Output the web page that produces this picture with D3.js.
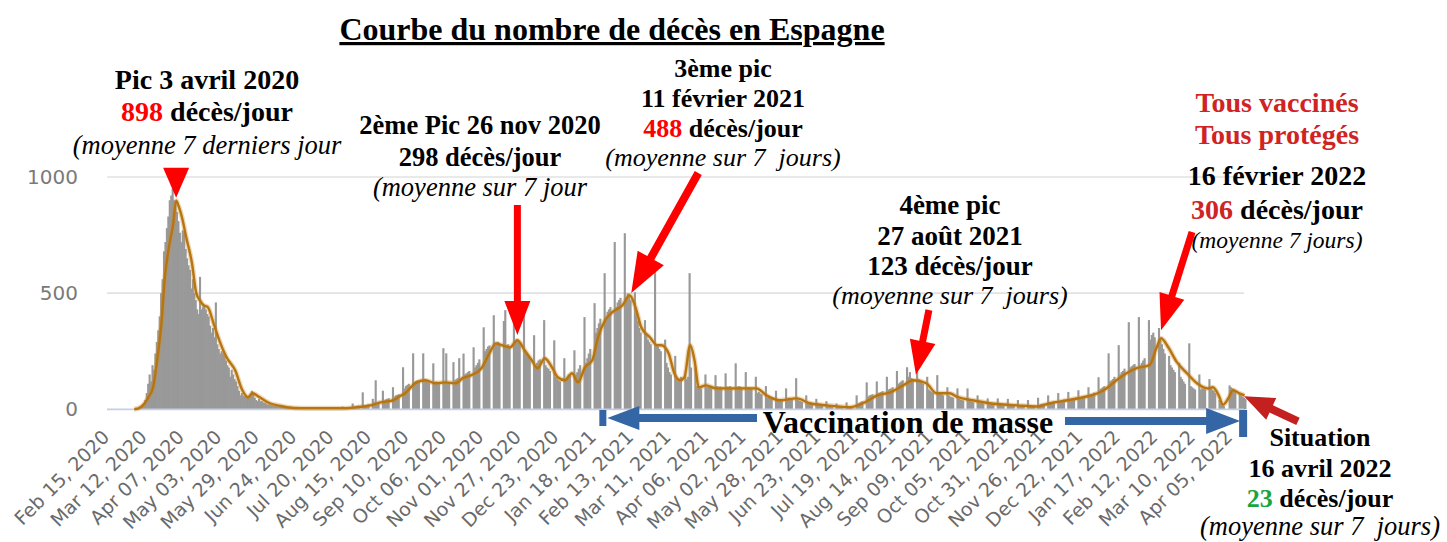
<!DOCTYPE html>
<html>
<head>
<meta charset="utf-8">
<script src="https://cdn.jsdelivr.net/npm/d3@7"></script>
<style>
  html, body { margin: 0; padding: 0; background: #fff; }
  svg { display: block; }
</style>
</head>
<body>
<svg id="chart" width="1447" height="542"></svg>
<script>
// --- data -------------------------------------------------------------
const startDate = new Date(2020, 1, 15);
const endDate = new Date(2022, 3, 16);
const firstBarDate = new Date(2020, 2, 2); // Monday, first row of weeklyDeaths

// daily deaths, one row per week (Mon..Sun)
const weeklyDeaths = [
  [0,0,1,1,3,5,10], [10,15,25,40,70,110,150], [120,190,170,240,290,340,400],
  [500,560,680,720,780,830,900], [920,950,900,880,850,810,760], [720,770,760,690,650,620,600],
  [520,560,500,470,430,410,570], [430,440,450,430,410,400,360], [330,350,310,460,280,260,240],
  [250,240,230,210,190,180,140], [170,150,130,120,100,80,60], [70,60,55,60,50,50,60],
  [80,70,50,40,35,45,35], [35,30,28,25,20,22,18], [18,15,16,14,12,15,12],
  [10,8,9,7,6,8,7], [6,5,4,6,5,4,5], [7,6,5,6,5,0,0],
  [9,6,7,6,7,0,0], [8,7,6,7,6,0,0], [9,6,7,6,8,0,0],
  [12,8,9,10,9,0,0], [25,12,14,15,16,0,0], [73,16,18,20,22,0,0],
  [45,30,125,28,32,0,0], [80,38,42,45,48,0,0], [95,55,60,62,65,0,0],
  [181,90,100,105,110,0,0], [241,118,122,125,120,0,0], [241,120,125,118,115,0,0],
  [198,115,120,118,112,0,0], [263,115,241,112,118,0,0], [203,125,130,135,220,0,0],
  [240,150,155,160,165,0,0], [267,180,190,200,215,0,0], [353,250,260,270,275,0,0],
  [405,280,285,290,280,0,0], [380,427,275,280,270,0,0], [410,290,300,295,290,0,0],
  [418,250,240,230,220,0,0], [319,190,200,210,215,0,0], [384,190,180,175,165,0,0],
  [297,140,130,125,120,0,0], [220,130,140,150,145,0,0], [254,150,160,175,190,0,0],
  [397,200,220,240,260,0,0], [457,330,350,370,390,0,0], [586,400,420,430,440,0,0],
  [720,440,460,470,480,0,0], [758,480,500,490,470,0,0], [504,420,380,350,330,0,0],
  [384,320,300,290,280,0,0], [629,280,270,260,250,0,0], [300,200,180,160,150,0,0],
  [230,130,120,125,140,0,0], [150,130,140,586,180,0,0], [180,100,95,100,90,0,0],
  [150,95,100,98,92,0,0], [147,100,95,98,95,0,0], [155,98,95,100,92,0,0],
  [198,95,100,98,95,0,0], [160,90,95,92,88,0,0], [140,70,75,68,65,0,0],
  [100,50,55,48,45,0,0], [80,45,40,42,38,0,0], [90,45,50,48,42,0,0],
  [134,40,38,35,32,0,0], [60,28,25,24,22,0,0], [45,20,18,17,16,0,0],
  [35,15,14,13,12,0,0], [25,10,11,10,9,0,0], [30,12,14,13,15,0,0],
  [60,25,28,32,35,0,0], [116,55,60,62,65,0,0], [120,70,72,75,78,0,0],
  [140,85,88,90,95,0,0], [165,110,115,120,125,0,0], [181,140,160,135,130,0,0],
  [160,130,120,115,110,0,0], [140,85,80,75,70,0,0], [147,70,68,65,60,0,0],
  [95,60,55,52,50,0,0], [90,45,42,40,38,0,0], [90,38,35,33,30,0,0],
  [60,30,28,27,25,0,0], [47,25,24,22,20,0,0], [47,20,19,18,17,0,0],
  [45,18,17,16,15,0,0], [40,15,14,14,13,0,0], [40,14,13,13,12,0,0],
  [50,20,22,24,25,0,0], [60,28,30,32,34,0,0], [70,36,38,40,42,0,0],
  [75,42,44,46,48,0,0], [82,50,52,55,58,0,0], [95,62,65,68,72,0,0],
  [138,85,90,95,100,0,0], [241,120,125,130,140,0,0], [276,150,160,165,175,0,0],
  [375,180,185,190,195,0,0], [397,190,200,210,220,0,0], [384,300,320,330,310,0,0],
  [350,300,280,260,240,0,0], [230,190,180,170,160,0,0], [200,140,130,120,110,0,0],
  [284,100,95,90,85,0,0], [150,85,90,88,85,0,0], [130,90,85,80,70,0,0],
  [40,30,20,15,0,0,0], [103,95,90,85,80,0,0], [70,60,55,50,45,0]
];

// 7-day average curve (days after startDate, deaths/day)
const avgDay = [19,23,26,29,32,35,38,40,43,46,48,50,52,55,59,62,65,67,70,74,78,83,89,94,98,101,106,113,120,125,
  135,150,165,175,183,190,199,203,207,214,221,228,235,242,247,253,260,266,270,274,280,285,290,295,299,304,309,313,318,
  323,327,332,337,341,346,351,358,363,367,371,377,382,385,390,394,398,401,405,408,411,416,423,437,451,458,467,479,488,
  500,516,525,535,544,553,560,569,576,585,591,601,613,632,646,655,667,678,688,694,701,708,715,724,729,732,737,743,750,
  757,764,768,772,775,779,782,786,790];
const avgVal = [0,8,25,55,95,220,384,556,698,800,898,870,828,741,629,500,465,448,440,370,297,224,168,82,52,69,52,26,15,9,
  5,5,5,10,17,30,39,55,69,112,125,112,116,112,134,147,177,246,284,276,267,297,254,211,177,220,181,138,125,
  155,116,181,211,310,384,418,448,491,440,353,310,276,276,241,155,125,138,276,211,95,103,90,90,90,60,39,47,26,
  17,9,26,60,73,103,125,112,69,69,52,39,26,17,12,26,39,52,69,90,125,155,177,190,267,306,267,203,155,
  112,90,95,60,20,50,82,70,60];

const yTicks = [0, 500, 1000];
const xTickLabels = ["Feb 15, 2020","Mar 12, 2020","Apr 07, 2020","May 03, 2020","May 29, 2020","Jun 24, 2020",
  "Jul 20, 2020","Aug 15, 2020","Sep 10, 2020","Oct 06, 2020","Nov 01, 2020","Nov 27, 2020","Dec 23, 2020",
  "Jan 18, 2021","Feb 13, 2021","Mar 11, 2021","Apr 06, 2021","May 02, 2021","May 28, 2021","Jun 23, 2021",
  "Jul 19, 2021","Aug 14, 2021","Sep 09, 2021","Oct 05, 2021","Oct 31, 2021","Nov 26, 2021","Dec 22, 2021",
  "Jan 17, 2022","Feb 12, 2022","Mar 10, 2022","Apr 05, 2022"];

// annotated peaks: date, 7-day value
const peaks = [
  { date: new Date(2020, 3, 3), value: 898 },
  { date: new Date(2020, 10, 26), value: 298 },
  { date: new Date(2021, 1, 11), value: 488 },
  { date: new Date(2021, 7, 27), value: 123 },
  { date: new Date(2022, 1, 16), value: 306 },
  { date: new Date(2022, 3, 16), value: 60 }
];
const vaxStart = new Date(2021, 0, 24);
const vaxEnd = new Date(2022, 3, 14);

// --- chart -------------------------------------------------------------
const RED = '#ff0000', DARKRED = '#d02424', GREEN = '#1aa53c', BLUE = '#3465a4';
const SERIF = '"Liberation Serif", "Times New Roman", serif';

const svg = d3.select('#chart');
const x = d3.scaleTime().domain([startDate, endDate]).range([107, 1246]);
const y = d3.scaleLinear().domain([0, 1000]).range([409.3, 177]);

const bars = weeklyDeaths.flat().map((v, i) => ({ date: d3.timeDay.offset(firstBarDate, i), value: v }));
const avgLine = avgDay.map((d, i) => ({ date: d3.timeDay.offset(startDate, d), value: avgVal[i] }));

// grid
svg.append('g').selectAll('line')
  .data(yTicks.filter(v => v > 0))
  .enter().append('line')
  .attr('x1', 107).attr('x2', 1244)
  .attr('y1', d => y(d)).attr('y2', d => y(d))
  .attr('stroke', '#e2e2e2').attr('stroke-width', 1.6);

// bars (slight overlap so neighbouring days merge without seams)
svg.append('g').selectAll('rect')
  .data(bars.filter(d => d.value > 0))
  .enter().append('rect')
  .attr('x', d => x(d.date) - 0.2)
  .attr('width', d => x(d3.timeDay.offset(d.date, 1)) - x(d.date) + 0.7)
  .attr('y', d => y(d.value))
  .attr('height', d => y(0) - y(d.value))
  .attr('fill', '#999999');

// baseline
svg.append('line')
  .attr('x1', 107).attr('x2', 1244)
  .attr('y1', y(0)).attr('y2', y(0))
  .attr('stroke', '#c6cee6').attr('stroke-width', 1.8);

// 7-day average line
const line = d3.line().x(d => x(d.date)).y(d => y(d.value)).curve(d3.curveMonotoneX);
svg.append('path').datum(avgLine).attr('d', line)
  .attr('fill', 'none').attr('stroke', 'rgba(200,140,50,0.35)').attr('stroke-width', 5).attr('stroke-linejoin', 'round');
svg.append('path').datum(avgLine).attr('d', line)
  .attr('fill', 'none').attr('stroke', '#b8740e').attr('stroke-width', 2.4).attr('stroke-linejoin', 'round');

// y axis
const yAxis = svg.append('g').attr('transform', 'translate(80,0)')
  .call(d3.axisLeft(y).tickValues(yTicks).tickSize(0).tickPadding(2).tickFormat(d3.format('d')));
yAxis.select('.domain').remove();
yAxis.selectAll('text')
  .attr('font-family', '"DejaVu Sans", sans-serif').attr('font-size', 20)
  .attr('fill', '#7a7a7a');

// x axis
const parseTick = d3.timeParse('%b %d, %Y');
const xAxis = svg.append('g').attr('transform', `translate(0,${y(0)})`)
  .call(d3.axisBottom(x).tickValues(xTickLabels.map(parseTick)).tickSize(0)
    .tickFormat(d3.timeFormat('%b %d, %Y')));
xAxis.select('.domain').remove();
xAxis.selectAll('text')
  .attr('font-family', '"DejaVu Sans", sans-serif').attr('font-size', 19)
  .attr('fill', '#6a6a6a')
  .attr('text-anchor', 'end')
  .attr('x', 0).attr('y', 0).attr('dy', 0)
  .attr('transform', 'translate(3,29) rotate(-45)');

// arrows
function arrow(x1, y1, x2, y2, shaft, headW, headL, color) {
  const dx = x2 - x1, dy = y2 - y1, len = Math.hypot(dx, dy);
  const ux = dx / len, uy = dy / len, px = -uy, py = ux;
  const bx = x2 - ux * headL, by = y2 - uy * headL;
  const pts = [
    [x1 + px * shaft / 2, y1 + py * shaft / 2],
    [bx + px * shaft / 2, by + py * shaft / 2],
    [bx + px * headW / 2, by + py * headW / 2],
    [x2, y2],
    [bx - px * headW / 2, by - py * headW / 2],
    [bx - px * shaft / 2, by - py * shaft / 2],
    [x1 - px * shaft / 2, y1 - py * shaft / 2]
  ];
  svg.append('polygon').attr('points', pts.map(p => p.join(',')).join(' ')).attr('fill', color);
}

const tip = (p, gap) => [x(p.date), y(p.value) - gap];

// peak 1: plain triangle
{
  const [tx, ty] = tip(peaks[0], 3);
  svg.append('polygon')
    .attr('points', `${tx - 13},${ty - 30} ${tx + 13},${ty - 30} ${tx},${ty}`)
    .attr('fill', RED);
}
{ const [tx, ty] = tip(peaks[1], 5); arrow(tx, 205, tx, ty, 7, 26, 34, RED); }
{ const [tx, ty] = tip(peaks[2], 3); arrow(tx + 70, 173, tx + 3, ty, 8, 30, 40, RED); }
{ const [tx, ty] = tip(peaks[3], 6); arrow(tx + 17, 310, tx + 4, ty, 7, 26, 34, RED); }
{ const [tx, ty] = tip(peaks[4], 8); arrow(tx + 31, 232, tx, ty, 7, 26, 36, RED); }
{ const [tx, ty] = tip(peaks[5], -1); arrow(tx + 52, ty + 25, tx - 2, ty, 8, 24, 30, '#c42020'); }

// vaccination arrow
{
  const x0 = x(vaxStart), x1 = x(vaxEnd);
  svg.append('rect').attr('x', x0 - 3).attr('y', 410).attr('width', 7).attr('height', 16).attr('fill', BLUE);
  arrow(757, 418, x0 + 5, 418, 8, 24, 32, BLUE);
  arrow(1065, 421, x1 - 3, 421, 8, 26, 34, BLUE);
  svg.append('rect').attr('x', x1 - 4).attr('y', 410).attr('width', 8).attr('height', 27).attr('fill', BLUE);
  svg.append('text').attr('x', 908).attr('y', 433).attr('text-anchor', 'middle')
    .attr('font-family', SERIF).attr('font-weight', 'bold').attr('font-size', 32).attr('fill', '#000')
    .text('Vaccination de masse');
}

// text blocks
function block(cx, lines) {
  lines.forEach(l => {
    const t = svg.append('text').attr('x', cx).attr('y', l.y).attr('text-anchor', 'middle')
      .attr('font-family', SERIF).attr('font-size', l.size)
      .attr('font-weight', l.italic ? 'normal' : 'bold')
      .attr('font-style', l.italic ? 'italic' : 'normal')
      .attr('xml:space', 'preserve');
    l.parts.forEach(([s, c]) => t.append('tspan').attr('fill', c || '#000').text(s));
  });
}

svg.append('text').attr('x', 612).attr('y', 40).attr('text-anchor', 'middle')
  .attr('font-family', SERIF).attr('font-weight', 'bold').attr('font-size', 32)
  .attr('text-decoration', 'underline').text('Courbe du nombre de décès en Espagne');

block(207, [
  { y: 89, size: 28, parts: [['Pic 3 avril 2020']] },
  { y: 121, size: 28, parts: [['898', RED], [' décès/jour']] },
  { y: 154, size: 26.5, italic: true, parts: [['(moyenne 7 derniers jour']] }
]);
block(480, [
  { y: 134, size: 26.5, parts: [['2ème Pic 26 nov 2020']] },
  { y: 166, size: 26.5, parts: [['298 décès/jour']] },
  { y: 196, size: 26.5, italic: true, parts: [['(moyenne sur 7 jour']] }
]);
block(723, [
  { y: 77, size: 26, parts: [['3ème pic']] },
  { y: 107, size: 26, parts: [['11 février 2021']] },
  { y: 137, size: 26, parts: [['488', RED], [' décès/jour']] },
  { y: 166, size: 26, italic: true, parts: [['(moyenne sur 7  jours)']] }
]);
block(950, [
  { y: 214, size: 27, parts: [['4ème pic']] },
  { y: 245, size: 27, parts: [['27 août 2021']] },
  { y: 275, size: 27, parts: [['123 décès/jour']] },
  { y: 304, size: 26, italic: true, parts: [['(moyenne sur 7  jours)']] }
]);
block(1277, [
  { y: 112, size: 28, parts: [['Tous vaccinés', DARKRED]] },
  { y: 144, size: 28, parts: [['Tous protégés', DARKRED]] },
  { y: 185, size: 28, parts: [['16 février 2022']] },
  { y: 219, size: 28, parts: [['306', DARKRED], [' décès/jour']] },
  { y: 248, size: 23.5, italic: true, parts: [['(moyenne 7 jours)']] }
]);
block(1320, [
  { y: 446, size: 26, parts: [['Situation']] },
  { y: 477, size: 26, parts: [['16 avril 2022']] },
  { y: 507, size: 26, parts: [['23', GREEN], [' décès/jour']] },
  { y: 535, size: 26.5, italic: true, parts: [['(moyenne sur 7  jours)']] }
]);
</script>
</body>
</html>
